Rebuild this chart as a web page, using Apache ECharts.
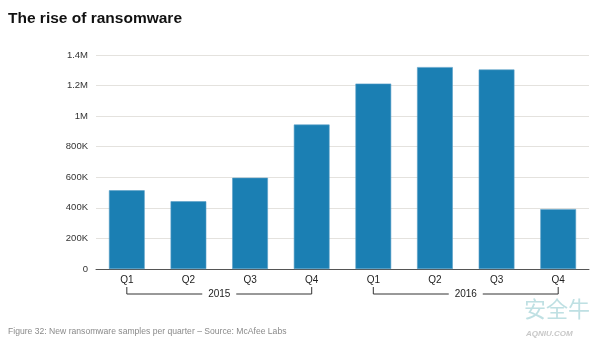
<!DOCTYPE html>
<html><head><meta charset="utf-8">
<script src="https://cdn.jsdelivr.net/npm/echarts@6/dist/echarts.min.js"></script>
<style>html,body{margin:0;padding:0;background:#fff}#c{width:600px;height:347px}</style>
</head><body><div id="c"></div>
<script>
const quarters = ['Q1','Q2','Q3','Q4','Q1','Q2','Q3','Q4'];
const samples = [515000, 443000, 597000, 945000, 1213000, 1321000, 1305000, 392000];
const years = ['2015','2016'];
const yearSpans = [[0,3],[4,7]];
const yTicks = {min:0, max:1400000, interval:200000};

const chart = echarts.init(document.getElementById('c'));
const FONT = '"Liberation Sans", Arial, Helvetica, sans-serif';
function fmt(v){ if(v===0) return '0'; if(v>=1000000) return (v/1000000)+'M'; return (v/1000)+'K'; }

chart.setOption({
  animation:false,
  textStyle:{fontFamily:FONT},
  title:{text:'The rise of ransomware', left:3, top:6,
    textStyle:{fontSize:15.5, fontWeight:'bold', color:'#111', fontFamily:FONT}},
  grid:{left:96, right:11, top:55, bottom:78, containLabel:false},
  xAxis:{type:'category', data:quarters,
    axisLine:{lineStyle:{color:'#555', width:1}},
    axisTick:{show:false},
    axisLabel:{color:'#222', fontSize:10, margin:6, fontFamily:FONT}},
  yAxis:{type:'value', min:yTicks.min, max:yTicks.max, interval:yTicks.interval,
    axisLine:{show:false}, axisTick:{show:false},
    splitLine:{lineStyle:{color:'#e4e2de', width:1}},
    axisLabel:{color:'#333', fontSize:9.5, margin:8, formatter:fmt, fontFamily:FONT}},
  series:[
    {type:'bar', data:samples, barWidth:'58%',
      itemStyle:{color:'#1b7fb3', borderColor:'#5a9fc8', borderWidth:0.6}},
    {type:'custom', clip:false, silent:true, z:5,
      data: yearSpans.map((s,i)=>[s[0], s[1], years[i]]),
      encode:{x:[0,1]},
      renderItem:function(params, api){
        const a = api.coord([api.value(0), 0]);
        const b = api.coord([api.value(1), 0]);
        const label = years[params.dataIndex];
        const yTop = a[1] + 18, yLine = a[1] + 25;
        const mid = (a[0]+b[0])/2, gap = 17;
        const st = {stroke:'#333', lineWidth:1, fill:null};
        return {type:'group', children:[
          {type:'polyline', shape:{points:[[a[0],yTop],[a[0],yLine],[mid-gap,yLine]]}, style:st},
          {type:'polyline', shape:{points:[[mid+gap,yLine],[b[0],yLine],[b[0],yTop]]}, style:st},
          {type:'text', style:{text:label, x:mid, y:yLine, align:'center', verticalAlign:'middle',
            fill:'#222', font:'10px '+FONT}}
        ]};
      }}
  ],
  graphic:[
    {type:'text', left:8, top:327, style:{text:'Figure 32: New ransomware samples per quarter – Source: McAfee Labs',
      fill:'#8a8a8a', font:'8.6px '+FONT}},
    {type:'text', left:524, top:298, style:{text:'安全牛', fill:'#bfe0e3', font:'22px "Noto Sans CJK SC"'}},
    {type:'text', left:526, top:330, style:{text:'AQNIU.COM', fill:'#c8c8c8', font:'italic bold 8px '+FONT}}
  ]
});
</script></body></html>
